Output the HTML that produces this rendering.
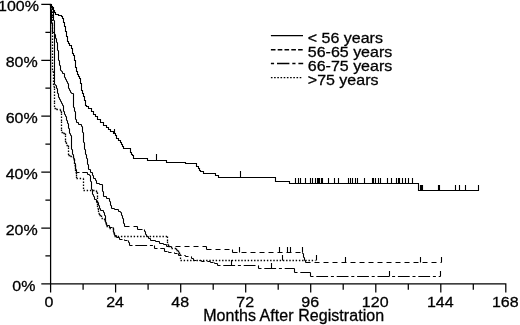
<!DOCTYPE html>
<html><head><meta charset="utf-8"><title>Survival by age</title>
<style>html,body{margin:0;padding:0;background:#fff}body{width:520px;height:325px;overflow:hidden}svg{display:block}</style></head>
<body>
<svg width="520" height="325" viewBox="0 0 520 325">
<rect width="520" height="325" fill="#fff"/>
<g fill="none" stroke="#000" stroke-width="1.25" stroke-linecap="butt" stroke-linejoin="miter">
<path d="M50.6 3.8 V283.9 M41.3 283.9 H506.4 M45.4 255.9 H50.6 M41.3 228.0 H50.6 M45.4 200.0 H50.6 M41.3 172.1 H50.6 M45.4 144.1 H50.6 M41.3 116.2 H50.6 M45.4 88.2 H50.6 M41.3 60.3 H50.6 M45.4 32.3 H50.6 M41.3 4.4 H50.6 M50.6 283.9 V292.5 M83.1 283.9 V289.7 M115.6 283.9 V292.5 M148.1 283.9 V289.7 M180.7 283.9 V292.5 M213.2 283.9 V289.7 M245.7 283.9 V292.5 M278.2 283.9 V289.7 M310.7 283.9 V292.5 M343.2 283.9 V289.7 M375.8 283.9 V292.5 M408.3 283.9 V289.7 M440.8 283.9 V292.5 M473.3 283.9 V289.7 M505.8 283.9 V292.5"/>
</g>
<g fill="none" stroke="#000" stroke-width="1.1" stroke-linecap="butt" stroke-linejoin="miter">
<path stroke-linecap="square" d="M50.5 4.5 H51.5 M51.5 4.5 V6.5 M51.5 6.5 H52.5 M52.5 6.5 V7.5 M52.5 7.5 H53.5 M53.5 7.5 V8.5 M53.5 8.5 V10.5 M53.5 10.5 H54.5 M54.5 10.5 V12.5 M54.5 12.5 H55.5 M55.5 12.5 V14.5 M55.5 14.5 H58.5 M58.5 14.5 V15.5 M58.5 15.5 H61.5 M61.5 15.5 V16.5 M61.5 16.5 H62.5 M62.5 16.5 V18.5 M62.5 18.5 H63.5 M63.5 18.5 V20.5 M63.5 20.5 V22.5 M63.5 22.5 H64.5 M64.5 22.5 V24.5 M64.5 24.5 V26.5 M64.5 26.5 H65.5 M65.5 26.5 V29.5 M65.5 29.5 V31.5 M65.5 31.5 H66.5 M66.5 31.5 V33.5 M66.5 33.5 V36.5 M66.5 36.5 H67.5 M67.5 36.5 V38.5 M67.5 38.5 V41.5 M67.5 41.5 H68.5 M68.5 41.5 V43.5 M68.5 43.5 H69.5 M69.5 43.5 V45.5 M69.5 45.5 H71.5 M71.5 45.5 V48.5 M71.5 48.5 H72.5 M72.5 48.5 V50.5 M72.5 50.5 V53.5 M72.5 53.5 H73.5 M73.5 53.5 V55.5 M73.5 55.5 H74.5 M74.5 55.5 V58.5 M74.5 58.5 V60.5 M74.5 60.5 H75.5 M75.5 60.5 V62.5 M75.5 62.5 V65.5 M75.5 65.5 V67.5 M75.5 67.5 H76.5 M76.5 67.5 V69.5 M76.5 69.5 V71.5 M76.5 71.5 H77.5 M77.5 71.5 V74.5 M77.5 74.5 H78.5 M78.5 74.5 V76.5 M78.5 76.5 H79.5 M79.5 76.5 V78.5 M79.5 78.5 H80.5 M80.5 78.5 V81.5 M80.5 81.5 V83.5 M80.5 83.5 H81.5 M81.5 83.5 V85.5 M81.5 85.5 V88.5 M81.5 88.5 V90.5 M81.5 90.5 H82.5 M82.5 90.5 V93.5 M82.5 93.5 H83.5 M83.5 93.5 V96.5 M83.5 96.5 H84.5 M84.5 96.5 V98.5 M84.5 98.5 V100.5 M84.5 100.5 H85.5 M85.5 100.5 V102.5 M85.5 102.5 V105.5 M85.5 105.5 H86.5 M86.5 105.5 V106.5 M86.5 106.5 H88.5 M88.5 106.5 V108.5 M88.5 108.5 H91.5 M91.5 108.5 V111.5 M91.5 111.5 H93.5 M93.5 111.5 V114.5 M93.5 114.5 H95.5 M95.5 114.5 V116.5 M95.5 116.5 H97.5 M97.5 116.5 V119.5 M97.5 119.5 H100.5 M100.5 119.5 V122.5 M100.5 122.5 H103.5 M103.5 122.5 V125.5 M103.5 125.5 H106.5 M106.5 125.5 V127.5 M106.5 127.5 H108.5 M108.5 127.5 V129.5 M108.5 129.5 H110.5 M110.5 129.5 V131.5 M110.5 131.5 H113.5 M113.5 131.5 V133.5 M113.5 133.5 H115.5 M115.5 133.5 V135.5 M115.5 135.5 H116.5 M116.5 135.5 V138.5 M116.5 138.5 H118.5 M118.5 138.5 V140.5 M118.5 140.5 H120.5 M120.5 140.5 V142.5 M120.5 142.5 H121.5 M121.5 142.5 V144.5 M121.5 144.5 H122.5 M122.5 144.5 V146.5 M122.5 146.5 H123.5 M123.5 146.5 V148.5 M123.5 148.5 H130.5 M130.5 148.5 V150.5 M130.5 150.5 V152.5 M130.5 152.5 H131.5 M131.5 152.5 V154.5 M131.5 154.5 H132.5 M132.5 154.5 V155.5 M132.5 155.5 H133.5 M133.5 155.5 V158.5 M133.5 158.5 H147.5 M147.5 158.5 V160.5 M147.5 160.5 H166.5 M166.5 160.5 V162.5 M166.5 162.5 H185.5 M185.5 162.5 V163.5 M185.5 163.5 H196.5 M196.5 163.5 V166.5 M196.5 166.5 H198.5 M198.5 166.5 V168.5 M198.5 168.5 H199.5 M199.5 168.5 V170.5 M199.5 170.5 H200.5 M200.5 170.5 V171.5 M200.5 171.5 H203.5 M203.5 171.5 V173.5 M203.5 173.5 H215.5 M215.5 173.5 V175.5 M215.5 175.5 H218.5 M218.5 175.5 V177.5 M218.5 177.5 H275.5 M275.5 177.5 V179.5 M275.5 179.5 V181.5 M275.5 181.5 H289.5 M289.5 181.5 V183.5 M289.5 183.5 H418.5 M418.5 183.5 V185.5 M418.5 185.5 V187.5 M418.5 187.5 V190.5 M418.5 190.5 H478.5"/>
<path d="M114.5 133.5 V129.0 M156.5 160.5 V154.0 M240.5 177.5 V171.0 M295.5 183.5 V178.0 M298.5 183.5 V178.0 M300.5 183.5 V178.0 M305.5 183.5 V178.0 M310.5 183.5 V178.0 M312.5 183.5 V178.0 M315.5 183.5 V178.0 M317.5 183.5 V178.0 M318.5 183.5 V178.0 M319.5 183.5 V178.0 M321.5 183.5 V178.0 M322.5 183.5 V178.0 M328.5 183.5 V178.0 M334.5 183.5 V178.0 M338.5 183.5 V178.0 M348.5 183.5 V178.0 M350.5 183.5 V178.0 M352.5 183.5 V178.0 M355.5 183.5 V178.0 M357.5 183.5 V178.0 M364.5 183.5 V178.0 M372.5 183.5 V178.0 M373.5 183.5 V178.0 M375.5 183.5 V178.0 M378.5 183.5 V178.0 M380.5 183.5 V178.0 M387.5 183.5 V178.0 M391.5 183.5 V178.0 M396.5 183.5 V178.0 M398.5 183.5 V178.0 M399.5 183.5 V178.0 M402.5 183.5 V178.0 M405.5 183.5 V178.0 M408.5 183.5 V178.0 M412.5 183.5 V178.0 M420.5 190.5 V185.0 M421.5 190.5 V185.0 M422.5 190.5 V185.0 M438.5 190.5 V185.0 M439.5 190.5 V185.0 M455.5 190.5 V185.0 M459.5 190.5 V185.0 M465.5 190.5 V185.0 M478.5 190.5 V185.0"/>
<path stroke-dasharray="5 4" d="M50.5 4.5 V6.5 M50.5 6.5 V9.5 M50.5 9.5 H51.5 M51.5 9.5 V12.5 M51.5 12.5 V14.5 M51.5 14.5 V17.5 M51.5 17.5 V19.5 M51.5 19.5 V20.5 M51.5 20.5 V23.5 M51.5 23.5 H52.5 M52.5 23.5 V26.5 M52.5 26.5 V29.5 M52.5 29.5 V32.5 M52.5 32.5 H54.5 M54.5 32.5 V34.5 M54.5 34.5 H55.5 M55.5 34.5 V36.5 M55.5 36.5 V38.5 M55.5 38.5 H56.5 M56.5 38.5 V40.5 M56.5 40.5 V42.5 M56.5 42.5 H57.5 M57.5 42.5 V45.5 M57.5 45.5 V47.5 M57.5 47.5 V50.5 M57.5 50.5 H58.5 M58.5 50.5 V53.5 M58.5 53.5 V55.5 M58.5 55.5 V58.5 M58.5 58.5 V60.5 M58.5 60.5 H59.5 M59.5 60.5 V62.5 M59.5 62.5 V65.5 M59.5 65.5 H60.5 M60.5 65.5 V67.5 M60.5 67.5 V70.5 M60.5 70.5 H61.5 M61.5 70.5 V71.5 M61.5 71.5 H62.5 M62.5 71.5 V73.5 M62.5 73.5 H64.5 M64.5 73.5 V75.5 M64.5 75.5 V77.5 M64.5 77.5 H65.5 M65.5 77.5 V79.5 M65.5 79.5 H66.5 M66.5 79.5 V81.5 M66.5 81.5 H67.5 M67.5 81.5 V83.5 M67.5 83.5 H68.5 M68.5 83.5 V85.5 M68.5 85.5 V88.5 M68.5 88.5 H69.5 M69.5 88.5 V90.5 M69.5 90.5 H70.5 M70.5 90.5 V92.5 M70.5 92.5 H71.5 M71.5 92.5 V93.5 M71.5 93.5 H73.5 M73.5 93.5 V96.5 M73.5 96.5 V99.5 M73.5 99.5 V102.5 M73.5 102.5 V105.5 M73.5 105.5 V107.5 M73.5 107.5 H74.5 M74.5 107.5 V109.5 M74.5 109.5 V111.5 M74.5 111.5 H75.5 M75.5 111.5 V114.5 M75.5 114.5 V116.5 M75.5 116.5 V119.5 M75.5 119.5 H76.5 M76.5 119.5 V122.5 M76.5 122.5 H78.5 M78.5 122.5 V124.5 M78.5 124.5 H81.5 M81.5 124.5 V126.5 M81.5 126.5 H82.5 M82.5 126.5 V129.5 M82.5 129.5 V132.5 M82.5 132.5 H83.5 M83.5 132.5 V135.5 M83.5 135.5 V137.5 M83.5 137.5 V140.5 M83.5 140.5 V142.5 M83.5 142.5 H84.5 M84.5 142.5 V145.5 M84.5 145.5 V147.5 M84.5 147.5 V149.5 M84.5 149.5 H85.5 M85.5 149.5 V151.5 M85.5 151.5 V154.5 M85.5 154.5 H86.5 M86.5 154.5 V156.5 M86.5 156.5 V158.5 M86.5 158.5 H87.5 M87.5 158.5 V161.5 M87.5 161.5 V164.5 M87.5 164.5 H88.5 M88.5 164.5 V166.5 M88.5 166.5 V169.5 M88.5 169.5 H90.5 M90.5 169.5 V172.5 M90.5 172.5 H92.5 M92.5 172.5 V175.5 M92.5 175.5 H93.5 M93.5 175.5 V178.5 M93.5 178.5 H95.5 M95.5 178.5 V180.5 M95.5 180.5 H96.5 M96.5 180.5 V183.5 M96.5 183.5 H99.5 M99.5 183.5 V184.5 M99.5 184.5 H102.5 M102.5 184.5 V186.5 M102.5 186.5 V189.5 M102.5 189.5 V191.5 M102.5 191.5 H103.5 M103.5 191.5 V194.5 M103.5 194.5 V196.5 M103.5 196.5 H106.5 M106.5 196.5 V198.5 M106.5 198.5 H109.5 M109.5 198.5 V201.5 M109.5 201.5 H110.5 M110.5 201.5 V203.5 M110.5 203.5 V205.5 M110.5 205.5 H111.5 M111.5 205.5 V208.5 M111.5 208.5 H114.5 M114.5 208.5 V209.5 M114.5 209.5 H118.5 M118.5 209.5 V211.5 M118.5 211.5 H120.5 M120.5 211.5 V212.5 M120.5 212.5 H121.5 M121.5 212.5 V215.5 M121.5 215.5 H122.5 M122.5 215.5 V218.5 M122.5 218.5 H123.5 M123.5 218.5 V220.5 M123.5 220.5 V223.5 M123.5 223.5 H124.5 M124.5 223.5 V226.5 M124.5 226.5 H137.5 M137.5 226.5 V228.5 M137.5 228.5 V229.5 M137.5 229.5 H144.5 M144.5 229.5 V231.5 M144.5 231.5 H145.5 M145.5 231.5 V234.5 M145.5 234.5 H146.5 M146.5 234.5 V236.5 M146.5 236.5 H148.5 M148.5 236.5 V238.5 M148.5 238.5 H150.5 M150.5 238.5 V240.5 M150.5 240.5 H155.5 M155.5 240.5 V241.5 M155.5 241.5 H159.5 M159.5 241.5 V243.5 M159.5 243.5 H163.5 M163.5 243.5 V244.5 M163.5 244.5 H166.5 M166.5 244.5 V246.5 M166.5 246.5 H206.5 M206.5 246.5 V248.5 M206.5 248.5 V249.5 M206.5 249.5 H232.5 M232.5 249.5 V252.5 M232.5 252.5 H302.5 M302.5 252.5 V253.5 M302.5 253.5 H303.5 M303.5 253.5 V255.5 M303.5 255.5 V257.5 M303.5 257.5 H304.5 M304.5 257.5 V260.5 M304.5 260.5 H305.5 M305.5 260.5 V262.5 M305.5 262.5 H441.5"/>
<path d="M239.5 252.5 V247.0 M279.5 252.5 V247.0 M287.5 252.5 V247.0 M290.5 252.5 V247.0 M302.5 252.5 V247.0 M345.5 262.5 V257.0 M420.5 262.5 V257.0 M441.5 262.5 V257.0"/>
<path stroke-dasharray="3 2.8 11.8 2.8" d="M50.5 4.5 H51.5 M51.5 4.5 V7.5 M51.5 7.5 H52.5 M52.5 7.5 V9.5 M52.5 9.5 H53.5 M53.5 9.5 V12.5 M53.5 12.5 V14.5 M53.5 14.5 V17.5 M53.5 17.5 V20.5 M53.5 20.5 H54.5 M54.5 20.5 V22.5 M54.5 22.5 V25.5 M54.5 25.5 V27.5 M54.5 27.5 V30.5 M54.5 30.5 V32.5 M54.5 32.5 V35.5 M54.5 35.5 V38.5 M54.5 38.5 V41.5 M54.5 41.5 V44.5 M54.5 44.5 V47.5 M54.5 47.5 V50.5 M54.5 50.5 V53.5 M54.5 53.5 V56.5 M54.5 56.5 V59.5 M54.5 59.5 V62.5 M54.5 62.5 V65.5 M54.5 65.5 V68.5 M54.5 68.5 V71.5 M54.5 71.5 V74.5 M54.5 74.5 V76.5 M54.5 76.5 V79.5 M54.5 79.5 V81.5 M54.5 81.5 V84.5 M54.5 84.5 H55.5 M55.5 84.5 V85.5 M55.5 85.5 H56.5 M56.5 85.5 V88.5 M56.5 88.5 H57.5 M57.5 88.5 V90.5 M57.5 90.5 V93.5 M57.5 93.5 H58.5 M58.5 93.5 V95.5 M58.5 95.5 V97.5 M58.5 97.5 H59.5 M59.5 97.5 V99.5 M59.5 99.5 H60.5 M60.5 99.5 V101.5 M60.5 101.5 H61.5 M61.5 101.5 V103.5 M61.5 103.5 H62.5 M62.5 103.5 V105.5 M62.5 105.5 H63.5 M63.5 105.5 V107.5 M63.5 107.5 V109.5 M63.5 109.5 V111.5 M63.5 111.5 H64.5 M64.5 111.5 V114.5 M64.5 114.5 H65.5 M65.5 114.5 V116.5 M65.5 116.5 H66.5 M66.5 116.5 V118.5 M66.5 118.5 V120.5 M66.5 120.5 H67.5 M67.5 120.5 V123.5 M67.5 123.5 H68.5 M68.5 123.5 V126.5 M68.5 126.5 V128.5 M68.5 128.5 H69.5 M69.5 128.5 V131.5 M69.5 131.5 V133.5 M69.5 133.5 H70.5 M70.5 133.5 V135.5 M70.5 135.5 H71.5 M71.5 135.5 V137.5 M71.5 137.5 V140.5 M71.5 140.5 V142.5 M71.5 142.5 V145.5 M71.5 145.5 V147.5 M71.5 147.5 V149.5 M71.5 149.5 H72.5 M72.5 149.5 V151.5 M72.5 151.5 V154.5 M72.5 154.5 H73.5 M73.5 154.5 V156.5 M73.5 156.5 V158.5 M73.5 158.5 H74.5 M74.5 158.5 V161.5 M74.5 161.5 V163.5 M74.5 163.5 H75.5 M75.5 163.5 V166.5 M75.5 166.5 V169.5 M75.5 169.5 H76.5 M76.5 169.5 V172.5 M76.5 172.5 H87.5 M87.5 172.5 V174.5 M87.5 174.5 H89.5 M89.5 174.5 V175.5 M89.5 175.5 H90.5 M90.5 175.5 V177.5 M90.5 177.5 V179.5 M90.5 179.5 V181.5 M90.5 181.5 H91.5 M91.5 181.5 V184.5 M91.5 184.5 V186.5 M91.5 186.5 V189.5 M91.5 189.5 H92.5 M92.5 189.5 V191.5 M92.5 191.5 V194.5 M92.5 194.5 H93.5 M93.5 194.5 V196.5 M93.5 196.5 H94.5 M94.5 196.5 V199.5 M94.5 199.5 H96.5 M96.5 199.5 V202.5 M96.5 202.5 H98.5 M98.5 202.5 V205.5 M98.5 205.5 H99.5 M99.5 205.5 V208.5 M99.5 208.5 H100.5 M100.5 208.5 V210.5 M100.5 210.5 H103.5 M103.5 210.5 V212.5 M103.5 212.5 H104.5 M104.5 212.5 V215.5 M104.5 215.5 H105.5 M105.5 215.5 V217.5 M105.5 217.5 V219.5 M105.5 219.5 V222.5 M105.5 222.5 H106.5 M106.5 222.5 V225.5 M106.5 225.5 H109.5 M109.5 225.5 V227.5 M109.5 227.5 H113.5 M113.5 227.5 V229.5 M113.5 229.5 V232.5 M113.5 232.5 H114.5 M114.5 232.5 V235.5 M114.5 235.5 H116.5 M116.5 235.5 V237.5 M116.5 237.5 H119.5 M119.5 237.5 V239.5 M119.5 239.5 H124.5 M124.5 239.5 V240.5 M124.5 240.5 H128.5 M128.5 240.5 V242.5 M128.5 242.5 H129.5 M129.5 242.5 V245.5 M129.5 245.5 H154.5 M154.5 245.5 V248.5 M154.5 248.5 H164.5 M164.5 248.5 V251.5 M164.5 251.5 H168.5 M168.5 251.5 V252.5 M168.5 252.5 H174.5 M174.5 252.5 V253.5 M174.5 253.5 H178.5 M178.5 253.5 V255.5 M178.5 255.5 H185.5 M185.5 255.5 V256.5 M185.5 256.5 H191.5 M191.5 256.5 V258.5 M191.5 258.5 H193.5 M193.5 258.5 V260.5 M193.5 260.5 H201.5 M201.5 260.5 V261.5 M201.5 261.5 H210.5 M210.5 261.5 V262.5 M210.5 262.5 H214.5 M214.5 262.5 V263.5 M214.5 263.5 H217.5 M217.5 263.5 V265.5 M217.5 265.5 H258.5 M258.5 265.5 V268.5 M258.5 268.5 H294.5 M294.5 268.5 V270.5 M294.5 270.5 V272.5 M294.5 272.5 H310.5 M310.5 272.5 V274.5 M310.5 274.5 V276.5 M310.5 276.5 H440.5"/>
<path d="M231.5 265.5 V260.0 M271.5 268.5 V263.0 M389.5 276.5 V271.0 M440.5 276.5 V271.0"/>
<path stroke-width="1.3" stroke-dasharray="1.4 1.8" d="M50.5 4.5 V6.5 M50.5 6.5 H51.5 M51.5 6.5 V8.5 M51.5 8.5 H52.5 M52.5 8.5 V11.5 M52.5 11.5 V14.5 M52.5 14.5 V16.5 M52.5 16.5 V19.5 M52.5 19.5 V22.5 M52.5 22.5 V24.5 M52.5 24.5 V27.5 M52.5 27.5 V30.5 M52.5 30.5 V32.5 M52.5 32.5 V35.5 M52.5 35.5 V38.5 M52.5 38.5 V41.5 M52.5 41.5 V44.5 M52.5 44.5 V47.5 M52.5 47.5 V50.5 M52.5 50.5 V53.5 M52.5 53.5 V56.5 M52.5 56.5 V59.5 M52.5 59.5 V62.5 M52.5 62.5 V65.5 M52.5 65.5 V68.5 M52.5 68.5 V71.5 M52.5 71.5 H53.5 M53.5 71.5 V74.5 M53.5 74.5 V77.5 M53.5 77.5 V80.5 M53.5 80.5 V83.5 M53.5 83.5 V86.5 M53.5 86.5 H54.5 M54.5 86.5 V88.5 M54.5 88.5 V91.5 M54.5 91.5 V94.5 M54.5 94.5 V97.5 M54.5 97.5 V100.5 M54.5 100.5 V102.5 M54.5 102.5 V105.5 M54.5 105.5 V108.5 M54.5 108.5 H56.5 M56.5 108.5 V109.5 M56.5 109.5 H60.5 M60.5 109.5 V111.5 M60.5 111.5 H61.5 M61.5 111.5 V113.5 M61.5 113.5 V116.5 M61.5 116.5 V119.5 M61.5 119.5 V121.5 M61.5 121.5 V124.5 M61.5 124.5 V127.5 M61.5 127.5 V129.5 M61.5 129.5 V132.5 M61.5 132.5 H63.5 M63.5 132.5 V133.5 M63.5 133.5 H65.5 M65.5 133.5 V135.5 M65.5 135.5 V138.5 M65.5 138.5 V140.5 M65.5 140.5 V142.5 M65.5 142.5 H66.5 M66.5 142.5 V145.5 M66.5 145.5 H68.5 M68.5 145.5 V147.5 M68.5 147.5 V150.5 M68.5 150.5 V153.5 M68.5 153.5 V155.5 M68.5 155.5 H70.5 M70.5 155.5 V156.5 M70.5 156.5 H73.5 M73.5 156.5 V159.5 M73.5 159.5 H74.5 M74.5 159.5 V162.5 M74.5 162.5 V165.5 M74.5 165.5 H75.5 M75.5 165.5 V167.5 M75.5 167.5 V169.5 M75.5 169.5 V172.5 M75.5 172.5 H76.5 M76.5 172.5 V174.5 M76.5 174.5 V176.5 M76.5 176.5 V178.5 M76.5 178.5 H83.5 M83.5 178.5 V181.5 M83.5 181.5 V184.5 M83.5 184.5 V187.5 M83.5 187.5 V190.5 M83.5 190.5 H96.5 M96.5 190.5 V192.5 M96.5 192.5 H97.5 M97.5 192.5 V195.5 M97.5 195.5 V197.5 M97.5 197.5 V200.5 M97.5 200.5 V203.5 M97.5 203.5 V205.5 M97.5 205.5 V208.5 M97.5 208.5 H98.5 M98.5 208.5 V210.5 M98.5 210.5 V213.5 M98.5 213.5 H99.5 M99.5 213.5 V215.5 M99.5 215.5 H101.5 M101.5 215.5 V218.5 M101.5 218.5 H104.5 M104.5 218.5 V220.5 M104.5 220.5 H105.5 M105.5 220.5 V223.5 M105.5 223.5 H106.5 M106.5 223.5 V226.5 M106.5 226.5 H109.5 M109.5 226.5 V228.5 M109.5 228.5 H113.5 M113.5 228.5 V230.5 M113.5 230.5 V233.5 M113.5 233.5 H114.5 M114.5 233.5 V236.5 M114.5 236.5 H167.5 M167.5 236.5 V239.5 M167.5 239.5 V241.5 M167.5 241.5 V244.5 M167.5 244.5 H168.5 M168.5 244.5 V246.5 M168.5 246.5 H171.5 M171.5 246.5 V248.5 M171.5 248.5 H176.5 M176.5 248.5 V250.5 M176.5 250.5 H178.5 M178.5 250.5 V252.5 M178.5 252.5 H179.5 M179.5 252.5 V254.5 M179.5 254.5 H180.5 M180.5 254.5 V257.5 M180.5 257.5 V260.5 M180.5 260.5 H315.5"/>
<path d="M282.5 260.5 V255.0 M316.5 260.5 V255.0"/>
<path stroke-width="1.3" d="M270.9 35.6 H303"/>
<path stroke-width="1.4" stroke-dasharray="4.6 2.2" d="M270.9 49.8 H303"/>
<path stroke-width="1.3" stroke-dasharray="3.2 2.9 12.4 2.9" d="M270.9 63.5 H303.2"/>
<path stroke-width="1.4" stroke-dasharray="1.6 1.6" d="M270.9 77.6 H301.5"/>
</g>
<g font-family="'Liberation Sans', Arial, Helvetica, sans-serif" font-size="16" fill="#000" stroke="#000" stroke-width="0.3">
<text transform="translate(35.4 290.8) scale(1 0.94)" text-anchor="end">0%</text>
<text transform="translate(37.7 235.0) scale(1 0.94)" text-anchor="end">20%</text>
<text transform="translate(37.7 179.1) scale(1 0.94)" text-anchor="end">40%</text>
<text transform="translate(37.7 123.2) scale(1 0.94)" text-anchor="end">60%</text>
<text transform="translate(37.7 67.3) scale(1 0.94)" text-anchor="end">80%</text>
<text transform="translate(38.9 11.0) scale(1 0.94)" text-anchor="end">100%</text>
<text transform="translate(49.0 307.4) scale(1 0.95)" text-anchor="middle">0</text>
<text transform="translate(115.1 307.4) scale(1 0.95)" text-anchor="middle">24</text>
<text transform="translate(180.2 307.4) scale(1 0.95)" text-anchor="middle">48</text>
<text transform="translate(245.2 307.4) scale(1 0.95)" text-anchor="middle">72</text>
<text transform="translate(310.2 307.4) scale(1 0.95)" text-anchor="middle">96</text>
<text transform="translate(375.2 307.4) scale(1 0.95)" text-anchor="middle">120</text>
<text transform="translate(440.3 307.4) scale(1 0.95)" text-anchor="middle">144</text>
<text transform="translate(505.3 307.4) scale(1 0.95)" text-anchor="middle">168</text>
<text x="203.2" y="320.6" letter-spacing="0.055">Months After Registration</text>
<text transform="translate(307.8 43.0) scale(1 0.92)">&lt; 56 years</text>
<text transform="translate(307.8 57.0) scale(1 0.92)">56-65 years</text>
<text transform="translate(307.8 71.2) scale(1 0.92)">66-75 years</text>
<text transform="translate(307.8 85.4) scale(1 0.92)">&gt;75 years</text>
</g></svg>
</body></html>
